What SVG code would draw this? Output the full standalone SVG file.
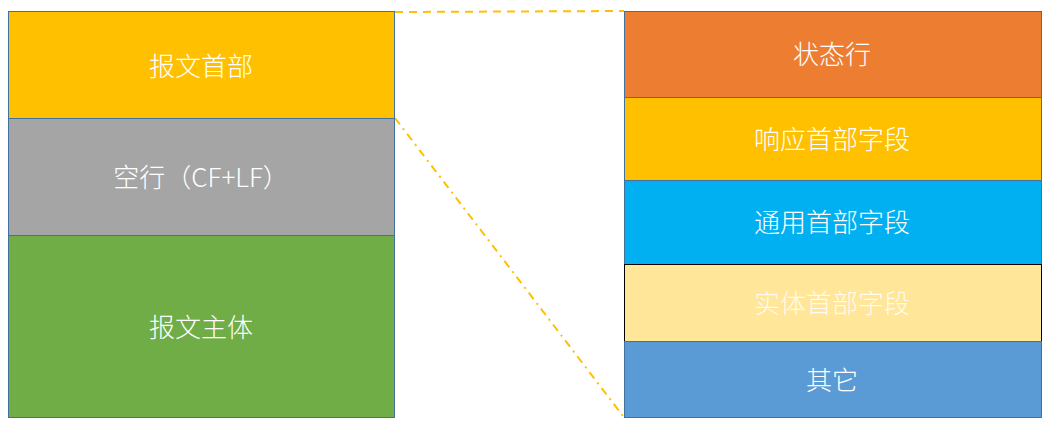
<svg xmlns="http://www.w3.org/2000/svg" width="1052" height="429" viewBox="0 0 1052 429">
<style>
.box{stroke:#41719C;stroke-width:1}
.lbl{font-family:"Microsoft YaHei","Noto Sans CJK SC",sans-serif;font-size:26px;font-weight:300;fill:#FFFFFF;text-anchor:middle;dominant-baseline:central}
.conn{fill:none;stroke:#FFC000;stroke-width:2}
</style>
<rect width="1052" height="429" fill="#FFFFFF"/>
<g id="connectors">
<line class="conn" x1="395" y1="12" x2="624" y2="11" stroke-dasharray="8,6"/>
<line class="conn" x1="395" y1="118" x2="623" y2="416" stroke-dasharray="8,5,2,5"/>
</g>
<g id="header"><rect class="box" x="8.5" y="11.5" width="386" height="107" fill="#FFC000"/><text class="lbl" x="201" y="64">报文首部</text></g>
<g id="blank"><rect class="box" x="8.5" y="118.5" width="386" height="117" fill="#A5A5A5"/><text class="lbl" x="201" y="175">空行（CF+LF）</text></g>
<g id="body"><rect class="box" x="8.5" y="235.5" width="386" height="182" fill="#70AD47"/><text class="lbl" x="201" y="325">报文主体</text></g>
<g id="status"><rect class="box" x="624.5" y="11.5" width="417" height="86" fill="#ED7D31"/><text class="lbl" x="832" y="52">状态行</text></g>
<g id="resp"><rect class="box" x="624.5" y="97.5" width="417" height="83" fill="#FFC000"/><text class="lbl" x="832" y="137">响应首部字段</text></g>
<g id="general"><rect class="box" x="624.5" y="180.5" width="417" height="84" fill="#00B0F0"/><text class="lbl" x="832" y="220">通用首部字段</text></g>
<g id="entity"><rect x="624.5" y="264.5" width="417" height="77" fill="#FFE699" stroke="#000000" stroke-width="1"/><text class="lbl" x="832" y="301" fill-opacity="0.85">实体首部字段</text></g>
<g id="other"><rect class="box" x="624.5" y="341.5" width="417" height="76" fill="#5B9BD5"/><text class="lbl" x="832" y="378">其它</text></g>
</svg>
